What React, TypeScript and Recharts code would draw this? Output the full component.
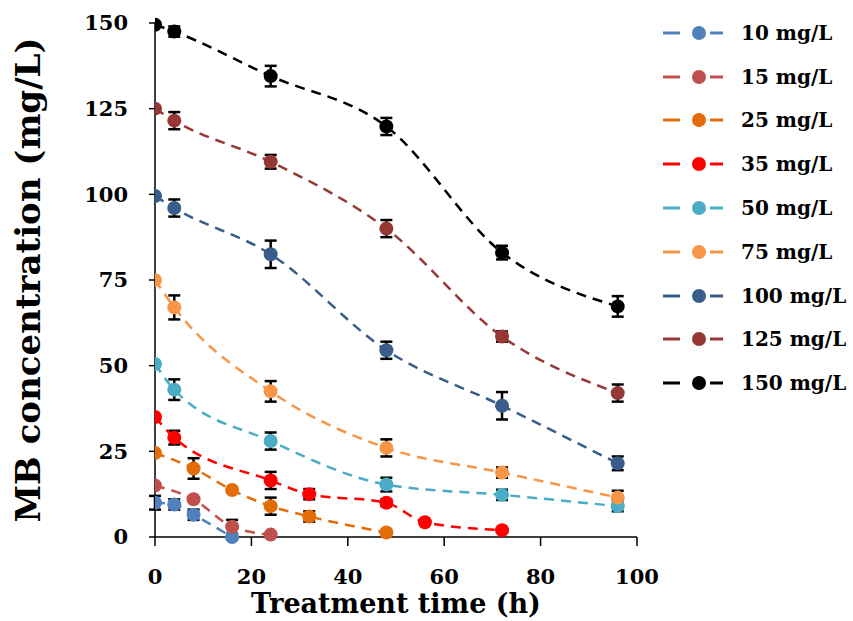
import { LineChart, Line, XAxis, YAxis, ErrorBar, Legend } from 'recharts';

// treatment times (h) for each initial concentration
const t10 = [0, 4, 8, 16];
const t15 = [0, 8, 16, 24];
const t25 = [0, 8, 16, 24, 32, 48];
const t35 = [0, 4, 24, 32, 48, 56, 72];
const tMain = [0, 4, 24, 48, 72, 96];

// MB concentration (mg/L)
const v10 = [10, 9.5, 6.5, 0];
const v15 = [15, 11, 3, 0.7];
const v25 = [24.5, 20, 13.7, 9, 6, 1.3];
const v35 = [35, 29, 16.5, 12.5, 10, 4.3, 2];
const v50 = [50.5, 43, 28, 15.3, 12.3, 9];
const v75 = [75, 67, 42.5, 26, 18.8, 11.5];
const v100 = [99.5, 96, 82.5, 54.5, 38.3, 21.5];
const v125 = [125, 121.5, 109.5, 90, 58.5, 42];
const v150 = [149.5, 147.5, 134.5, 119.8, 83, 67.3];

// error bars (+/-)
const e10 = [2, 1.5, 1.5, 0];
const e15 = [0, 0, 2, 0];
const e25 = [0, 3, 0, 2.5, 1.5, 0];
const e35 = [0, 2, 2.5, 1.5, 1, 0, 0];
const e50 = [0, 3, 2.5, 2, 1.5, 1.5];
const e75 = [0, 3.5, 3, 2.5, 1.5, 2];
const e100 = [0, 2.5, 4, 2.5, 4, 2];
const e125 = [0, 2.5, 2, 2.5, 1.5, 2.5];
const e150 = [0, 1.5, 3, 2.5, 2, 3];

const xTicks = [0, 20, 40, 60, 80, 100];
const yTicks = [0, 25, 50, 75, 100, 125, 150];

const build = (t: number[], v: number[], e: number[]) =>
  t.map((time, i) => ({ t: time, c: v[i], e: e[i] }));

const series = [
  { name: '10 mg/L', color: '#4F81BD', data: build(t10, v10, e10) },
  { name: '15 mg/L', color: '#C0504D', data: build(t15, v15, e15) },
  { name: '25 mg/L', color: '#E36C09', data: build(t25, v25, e25) },
  { name: '35 mg/L', color: '#FF0000', data: build(t35, v35, e35) },
  { name: '50 mg/L', color: '#4BACC6', data: build(tMain, v50, e50) },
  { name: '75 mg/L', color: '#F79646', data: build(tMain, v75, e75) },
  { name: '100 mg/L', color: '#385D8A', data: build(tMain, v100, e100) },
  { name: '125 mg/L', color: '#953735', data: build(tMain, v125, e125) },
  { name: '150 mg/L', color: '#000000', data: build(tMain, v150, e150) },
];

const FONT = '"DejaVu Serif", "Liberation Serif", serif';

const renderLegend = () => (
  <div style={{ fontFamily: FONT, fontWeight: 'bold', fontSize: 20 }}>
    {series.map((s) => (
      <div key={s.name} style={{ display: 'flex', alignItems: 'center', height: 43.8 }}>
        <svg width={70} height={20}>
          <line x1={8} y1={10} x2={25} y2={10} stroke={s.color} strokeWidth={3} />
          <line x1={55} y1={10} x2={68} y2={10} stroke={s.color} strokeWidth={3} />
          <circle cx={44} cy={10} r={7} fill={s.color} />
        </svg>
        <span style={{ marginLeft: 16, color: '#000' }}>{s.name}</span>
      </div>
    ))}
  </div>
);

export default function App() {
  return (
    <div style={{ position: 'absolute', left: 0, top: 0, background: '#fff' }}>
      <LineChart width={853} height={621} margin={{ top: 23, right: 216, bottom: 0, left: 0 }}>
        <XAxis
          type="number"
          dataKey="t"
          domain={[0, 100]}
          ticks={xTicks}
          allowDataOverflow
          height={84}
          tickSize={9}
          tickMargin={23}
          stroke="#000"
          strokeWidth={1.5}
          tick={{ fill: '#000', fontFamily: FONT, fontWeight: 'bold', fontSize: 21 }}
          label={{
            value: 'Treatment time (h)',
            position: 'insideBottom',
            offset: 8,
            fill: '#000',
            fontFamily: FONT,
            fontWeight: 'bold',
            fontSize: 27,
          }}
        />
        <YAxis
          type="number"
          domain={[0, 150]}
          ticks={yTicks}
          width={155}
          tickSize={6}
          tickMargin={21}
          stroke="#000"
          strokeWidth={1.5}
          tick={{ fill: '#000', fontFamily: FONT, fontWeight: 'bold', fontSize: 21 }}
          label={{
            value: 'MB concentration (mg/L)',
            angle: -90,
            position: 'insideLeft',
            offset: 28,
            fill: '#000',
            fontFamily: FONT,
            fontWeight: 'bold',
            fontSize: 34,
            style: { textAnchor: 'middle' },
          }}
        />
        <Legend
          layout="horizontal"
          verticalAlign="middle"
          align="center"
          content={renderLegend}
          wrapperStyle={{ left: 655, top: 11, width: 198 }}
        />
        {series.map((s) => (
          <Line
            key={s.name}
            name={s.name}
            data={s.data}
            dataKey="c"
            type="monotone"
            stroke={s.color}
            strokeWidth={2.5}
            strokeDasharray="10 7"
            dot={{ r: 7, fill: s.color, stroke: s.color, strokeWidth: 0 }}
            activeDot={false}
            isAnimationActive={false}
          >
            <ErrorBar dataKey="e" direction="y" width={6} strokeWidth={2.5} stroke="#000" />
          </Line>
        ))}
      </LineChart>
    </div>
  );
}
